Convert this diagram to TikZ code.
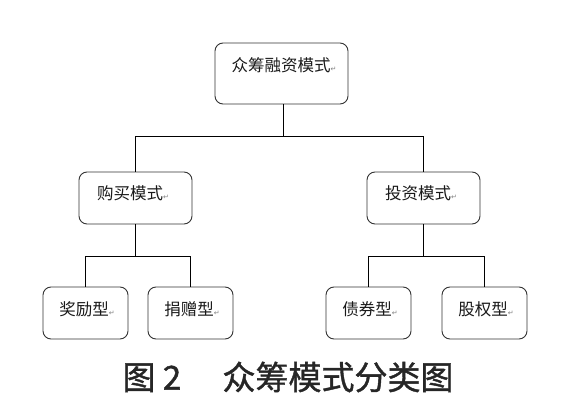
\documentclass[tikz,border=0pt]{standalone}
\usepackage{fontspec}
\newfontfamily\cjk{Noto Sans CJK SC}
\newfontfamily\cjkb[FakeBold=1.2]{Noto Sans CJK SC}
\newfontfamily\symf{DejaVu Sans}
\newcommand{\retmark}{{\symf\fontsize{7}{7}\selectfont\color{gray}\raisebox{-0.5pt}{↵}}}
\begin{document}
\begin{tikzpicture}[x=1pt,y=-1pt,
  box/.style={draw=black!80, line width=0.9pt, rounded corners=8pt, inner sep=0pt},
  txt/.style={inner sep=0pt, font=\cjk\fontsize{16.5}{18}\selectfont, text=black!90},
  link/.style={draw=black, line width=0.8pt}]
\useasboundingbox (0,0) rectangle (567,419);
% boxes
\node[box, minimum width=133pt, minimum height=61pt] (top) at (281.5,73.5) {};
\node[txt] (toptxt) at (284,65) {众筹融资模式\retmark};
\node[box, minimum width=113pt, minimum height=52pt] (buy) at (135.5,198) {};
\node[txt] (buytxt) at (133,193) {购买模式\retmark};
\node[box, minimum width=113pt, minimum height=52pt] (inv) at (423.5,198) {};
\node[txt] (invtxt) at (421,193) {投资模式\retmark};
\node[box, minimum width=85pt, minimum height=52pt] (b1) at (85.5,313) {};
\node[txt] (b1txt) at (87,309) {奖励型\retmark};
\node[box, minimum width=85pt, minimum height=52pt] (b2) at (190.5,313) {};
\node[txt] (b2txt) at (192,309) {捐赠型\retmark};
\node[box, minimum width=85pt, minimum height=52pt] (b3) at (368.5,313) {};
\node[txt] (b3txt) at (370,309) {债券型\retmark};
\node[box, minimum width=85pt, minimum height=52pt] (b4) at (484.5,313) {};
\node[txt] (b4txt) at (486,309) {股权型\retmark};
% connectors
\coordinate (busT) at (283,136.5);
\draw[link] (top.south -| busT) -- (busT);
\draw[link] (busT) -| (buy.north);
\draw[link] (busT) -| (inv.north);
\coordinate (busL) at (135.5,256);
\draw[link] (buy.south) -- (busL);
\draw[link] (busL) -| (b1.north);
\draw[link] (busL) -| (b2.north);
\coordinate (busR) at (423.5,256);
\draw[link] (inv.south) -- (busR);
\draw[link] (busR) -| (b3.north);
\draw[link] (busR) -| (b4.north);
% caption
\node[inner sep=0pt, font=\cjkb\fontsize{33}{36}\selectfont, text=black!85] (cap) at (288,377) {图 2\hspace{1.25em}众筹模式分类图};
\end{tikzpicture}
\end{document}
